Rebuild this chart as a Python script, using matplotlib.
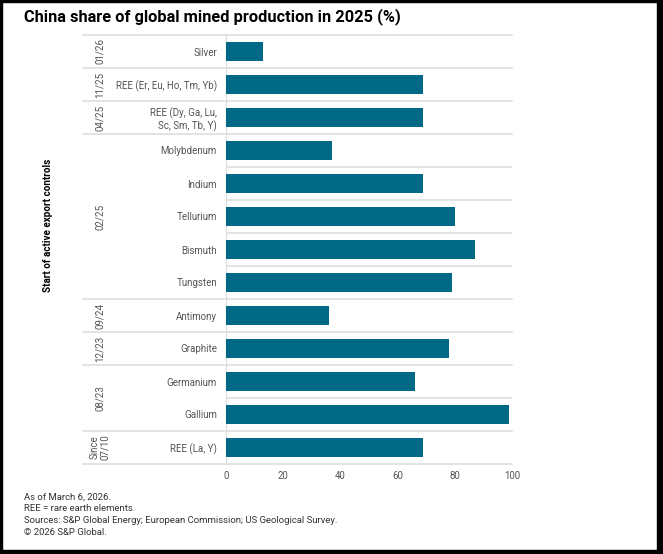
import matplotlib
matplotlib.use("Agg")
import matplotlib.pyplot as plt
import matplotlib.patches as mpatches
import matplotlib.transforms as mtransforms

### DATA ###
materials = ['Silver', 'REE (Er, Eu, Ho, Tm, Yb)', 'REE (Dy, Ga, Lu,\nSc, Sm, Tb, Y)',
             'Molybdenum', 'Indium', 'Tellurium', 'Bismuth', 'Tungsten',
             'Antimony', 'Graphite', 'Germanium', 'Gallium', 'REE (La, Y)']
china_share = [13, 69, 69, 37, 69, 80, 87, 79, 36, 78, 66, 99, 69]

### groups = start of export controls, with how many rows each one covers ###
group_labels = ['01/26', '11/25', '04/25', '02/25', '09/24', '12/23', '08/23', 'Since\n07/10']
group_sizes = [1, 1, 1, 5, 1, 1, 2, 1]

x_ticks = [0, 20, 40, 60, 80, 100]

plt.rcParams['font.family'] = ['Roboto', 'DejaVu Sans']

bar_color = '#006A86'
line_color = '#dedede'
label_color = '#555555'

fig = plt.figure(figsize=(6.63, 5.54), dpi=100)
ax = fig.add_axes([226 / 663, 90 / 554, 286 / 663, 429 / 554])

ypos = list(range(len(materials)))
ax.barh(ypos, china_share, height=0.58, color=bar_color, zorder=3)

ax.set_xlim(0, 100)
ax.set_ylim(len(materials) - 0.5, -0.5)
ax.set_xticks(x_ticks)
ax.set_yticks(ypos)
ax.set_yticklabels(materials, fontsize=7, color=label_color)
ax.tick_params(axis='y', length=0, pad=6.5)
ax.tick_params(axis='x', length=0, pad=5, labelsize=6.9, labelcolor=label_color)

for side in ['top', 'right', 'bottom']:
    ax.spines[side].set_visible(False)
ax.spines['left'].set_color(line_color)
ax.spines['left'].set_linewidth(0.9)

### row lines (short) and group lines (long) ###
boundaries = [0]
for s in group_sizes:
    boundaries.append(boundaries[-1] + s)
for k in range(len(materials) + 1):
    y = k - 0.5
    if k in boundaries:
        ax.axhline(y, xmin=-0.501, xmax=1, color=line_color, lw=1.2, clip_on=False, zorder=1)
    else:
        ax.axhline(y, xmin=0, xmax=1, color=line_color, lw=1.2, zorder=1)

### group labels ###
trans = mtransforms.blended_transform_factory(ax.transAxes, ax.transData)
for i, lab in enumerate(group_labels):
    mid = (boundaries[i] + boundaries[i + 1] - 1) / 2
    ax.text(-0.4406, mid, lab, transform=trans, rotation=90, ha='center', va='center',
            fontsize=7, color=label_color, linespacing=1.0)

fig.text(48 / 663, 1 - 225 / 554, 'Start of active export controls', rotation=90,
         ha='center', va='center', fontsize=7.1, fontweight='bold', color='black')

### title ###
fig.text(24 / 663, 1 - 17 / 554, 'China share of global mined production in 2025 (%)',
         ha='left', va='center', fontsize=11.8, fontweight='bold', color='black')

### footnotes ###
notes = ['As of March 6, 2026.', 'REE = rare earth elements.',
         'Sources: S&P Global Energy; European Commission; US Geological Survey.',
         '\u00a9 2026 S&P Global.']
for i, n in enumerate(notes):
    fig.text(24 / 663, 1 - (497 + i * 11.8) / 554, n, ha='left', va='center',
             fontsize=6.8, color='#333333')

### black frame round the picture ###
W, H = 663, 554
for (x0, y0, w, h) in [(0, 0, 2, H), (657, 0, 6, H), (0, 0, W, 4), (0, 552, W, 2)]:
    fig.patches.append(mpatches.Rectangle((x0 / W, y0 / H), w / W, h / H,
                                          transform=fig.transFigure, color='black', zorder=10))

fig.savefig('out.png', dpi=100)
